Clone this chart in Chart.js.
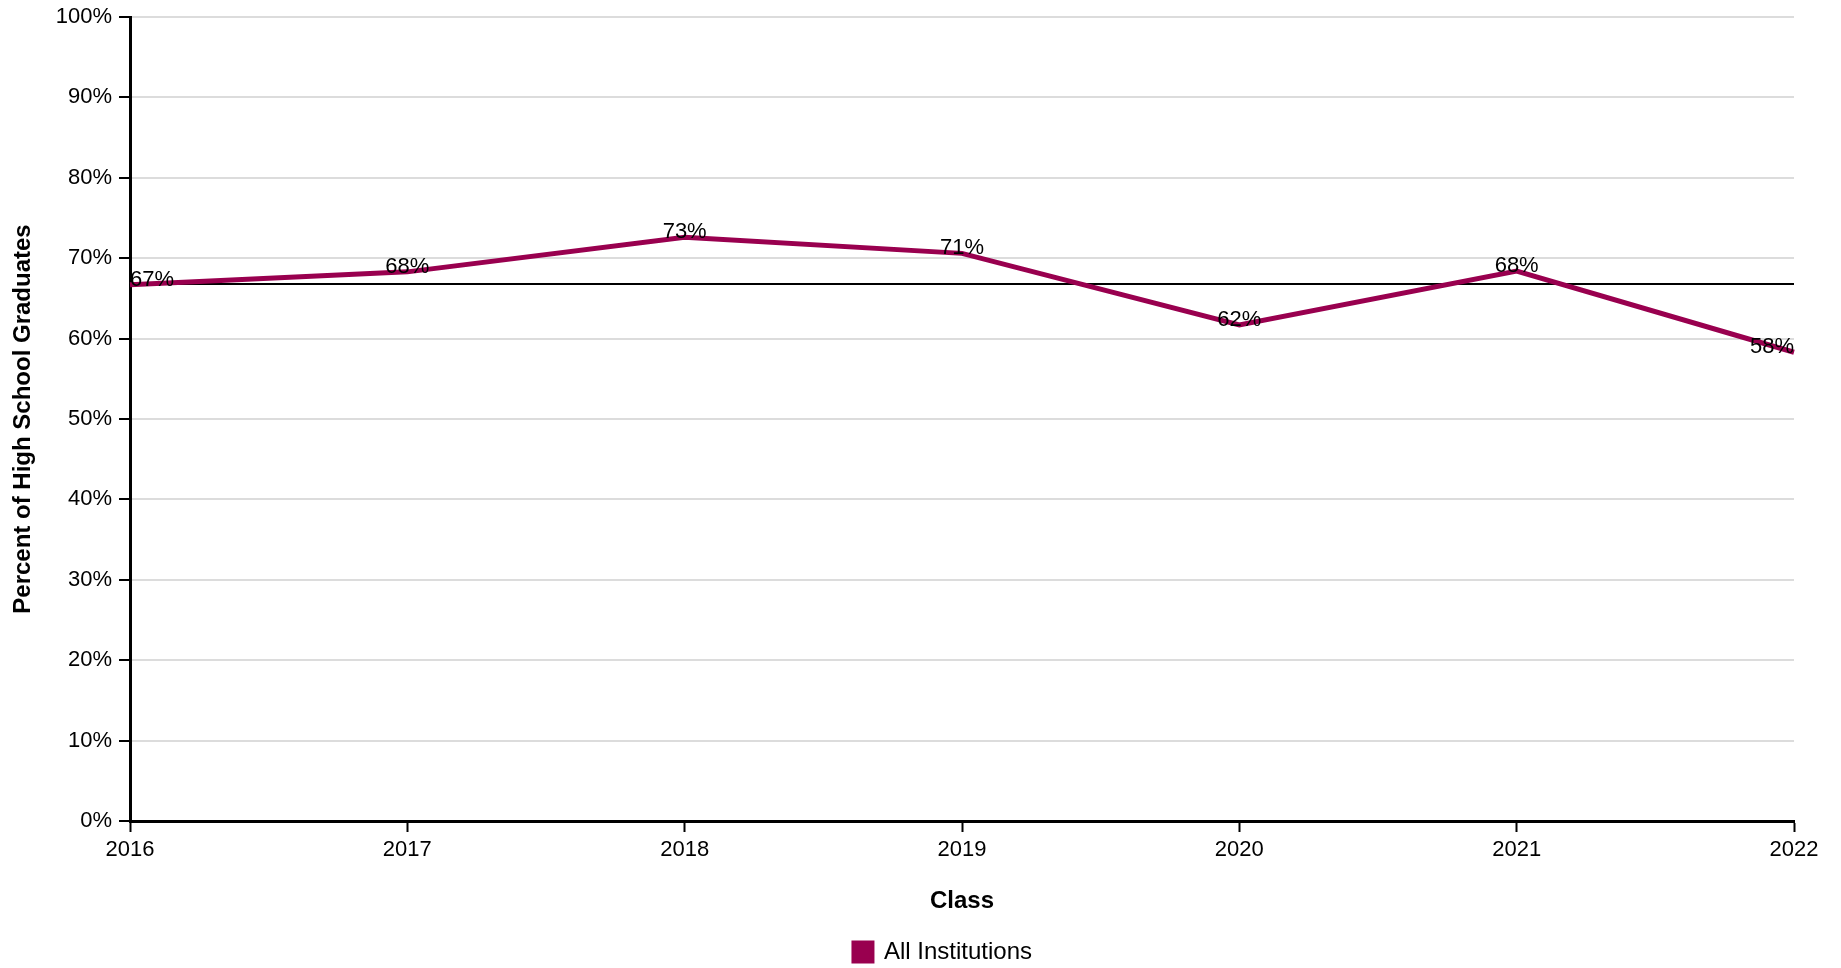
<!DOCTYPE html>
<html>
<head>
<meta charset="utf-8">
<script src="https://cdn.jsdelivr.net/npm/chart.js@4"></script>
<style>
  body { margin: 0; background: #fff; }
  #wrap { width: 1841px; height: 968px; }
</style>
</head>
<body>
<div id="wrap"><canvas id="lineChart" width="1841" height="968"></canvas></div>
<script>
const years = ["2016", "2017", "2018", "2019", "2020", "2021", "2022"];
const allInstitutions = [66.7, 68.3, 72.6, 70.6, 61.7, 68.4, 58.3];
const refLevel = [66.8, 66.8, 66.8, 66.8, 66.8, 66.8, 66.8];
const yTicks = [0, 10, 20, 30, 40, 50, 60, 70, 80, 90, 100];

const FONT = "'Liberation Sans', Arial, Helvetica, sans-serif";
const PURPLE = "#99004f";

// draw the % labels on top of each point
const pointLabels = {
    id: "pointLabels",
    afterDatasetsDraw(chart) {
        let ctx = chart.ctx;
        let meta = chart.getDatasetMeta(0);
        let last = meta.data.length - 1;
        ctx.save();
        ctx.font = "22px " + FONT;
        ctx.fillStyle = "#000";
        ctx.textBaseline = "alphabetic";
        meta.data.forEach((pt, i) => {
            ctx.textAlign = i === 0 ? "left" : (i === last ? "right" : "center");
            ctx.fillText(Math.round(allInstitutions[i]) + "%", pt.x, pt.y + 1);
        });
        ctx.restore();
    }
};

// legend sits a bit right of centre and lower in the original
const shiftLegend = {
    id: "shiftLegend",
    afterLayout(chart) {
        if (chart.legend) {
            chart.legend.left += 46;
            chart.legend.right += 46;
            chart.legend.top += 6;
            chart.legend.bottom += 6;
        }
    }
};

Chart.defaults.font.family = FONT;
Chart.defaults.font.size = 22;
Chart.defaults.color = "#000";

new Chart(document.getElementById("lineChart"), {
    type: "line",
    data: {
        labels: years,
        datasets: [
            {
                label: "All Institutions",
                data: allInstitutions,
                borderColor: PURPLE,
                backgroundColor: PURPLE,
                borderWidth: 5,
                pointRadius: 0,
                tension: 0,
                order: 0
            },
            {
                label: "ref",
                data: refLevel,
                borderColor: "#000",
                borderWidth: 2,
                pointRadius: 0,
                tension: 0,
                order: 1
            }
        ]
    },
    options: {
        responsive: false,
        devicePixelRatio: 1,
        animation: false,
        layout: { padding: { top: 17, right: 47, left: 0, bottom: 0 } },
        plugins: {
            tooltip: { enabled: false },
            legend: {
                position: "bottom",
                labels: {
                    boxWidth: 18,
                    boxHeight: 18,
                    padding: 4,
                    font: { size: 24 },
                    filter: item => item.datasetIndex === 0
                }
            }
        },
        scales: {
            x: {
                offset: false,
                afterFit: s => { s.height = 109; },
                grid: { drawOnChartArea: false, drawTicks: true, tickLength: 11, tickColor: "#000", tickWidth: 2 },
                border: { color: "#000", width: 3 },
                ticks: { padding: 5, maxRotation: 0 },
                title: { display: true, text: "Class", font: { size: 24, weight: "bold" }, padding: { top: 0, bottom: 14 } }
            },
            y: {
                min: 0,
                max: 100,
                afterFit: s => { s.width = 130; s.paddingTop = 0; s.paddingBottom = 0; },
                afterBuildTicks: s => { s.ticks = yTicks.map(v => ({ value: v })); },
                grid: { color: "#dcdcdc", lineWidth: 2, tickLength: 11, tickColor: "#000", tickWidth: 2 },
                border: { color: "#000", width: 3 },
                ticks: { padding: 7, callback: v => v + "%" },
                title: { display: true, text: "Percent of High School Graduates", font: { size: 24, weight: "bold" }, padding: { top: 9, bottom: 0 } }
            }
        }
    },
    plugins: [pointLabels, shiftLegend]
});
</script>
</body>
</html>
